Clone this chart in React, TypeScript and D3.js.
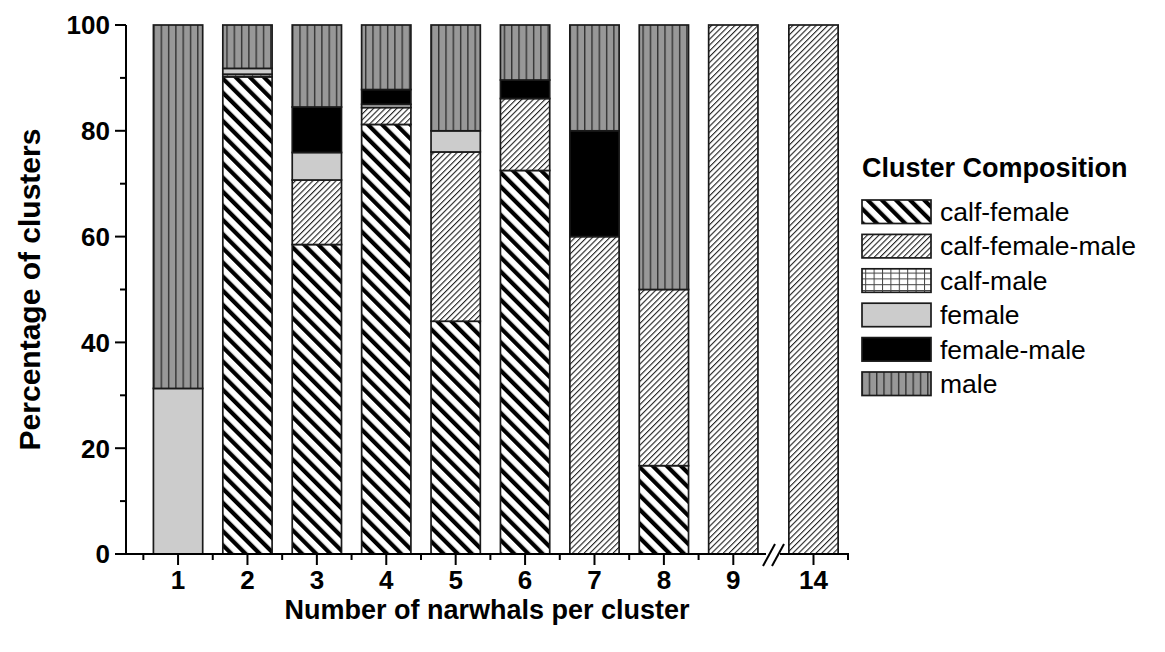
import React from "react";
import * as d3 from "d3";

// Cluster size categories (x axis has a break between 9 and 14)
const categories = ["1", "2", "3", "4", "5", "6", "7", "8", "9", "14"];
const clusterSizes = [1, 2, 3, 4, 5, 6, 7, 8, 9, 14];

// Percentage of clusters per composition type
const calfFemale = [0, 90.2, 58.5, 81.2, 44, 72.5, 0, 16.7, 0, 0];
const calfFemaleMale = [0, 0, 12.2, 3.2, 32, 13.6, 60, 33.3, 100, 100];
const calfMale = [0, 0.5, 0, 0, 0, 0, 0, 0, 0, 0];
const female = [31.3, 1.1, 5.2, 0.6, 4, 0, 0, 0, 0, 0];
const femaleMale = [0, 0, 8.6, 2.8, 0, 3.5, 20, 0, 0, 0];
const male = [68.7, 8.2, 15.5, 12.2, 20, 10.4, 20, 50, 0, 0];

const seriesNames = ["calf-female", "calf-female-male", "calf-male", "female", "female-male", "male"];
const seriesValues = [calfFemale, calfFemaleMale, calfMale, female, femaleMale, male];
const seriesFills = ["url(#pCalfFemale)", "url(#pCalfFemaleMale)", "url(#pCalfMale)", "#cccccc", "#000000", "url(#pMale)"];

const yTicks = [0, 20, 40, 60, 80, 100];
const yMinorTicks = [10, 30, 50, 70, 90];
const xMinorTicks = [0.5, 1.5, 2.5, 3.5, 4.5, 5.5, 6.5, 7.5, 8.5, 9.5, 13.5, 14.5];

const W = 1165;
const H = 652;
const FONT = "Arial, 'Liberation Sans', sans-serif";

export default function App() {
  // piecewise scale: segment 0.25..9.5, break, 13.5..14.5
  const x = d3.scaleLinear().domain([0.25, 9.5, 13.5, 14.5]).range([126, 768, 779, 848]);
  const y = d3.scaleLinear().domain([0, 100]).range([554, 25]);
  const barW = (x(2) - x(1)) * 0.71;

  const rows = categories.map((c, i) => {
    const r: Record<string, number | string> = { cat: c, pos: clusterSizes[i] };
    seriesNames.forEach((n, k) => (r[n] = seriesValues[k][i]));
    return r;
  });
  const stacked = d3.stack<any>().keys(seriesNames)(rows);

  const legendX = 862;
  const legendY0 = 200;
  const legendStep = 34.4;

  return (
    <svg width={W} height={H} style={{ position: "absolute", left: 0, top: 0, background: "#fff" }} fontFamily={FONT}>
      <defs>
        <pattern id="pCalfFemale" patternUnits="userSpaceOnUse" width={10} height={10} patternTransform="rotate(-45)">
          <rect width={10} height={10} fill="#fff" />
          <rect x={0} y={0} width={4.2} height={10} fill="#000" />
        </pattern>
        <pattern id="pCalfFemaleMale" patternUnits="userSpaceOnUse" width={4.1} height={10} patternTransform="rotate(45)">
          <rect width={4.1} height={10} fill="#fff" />
          <rect x={0} y={0} width={1.1} height={10} fill="#222" />
        </pattern>
        <pattern id="pCalfMale" patternUnits="userSpaceOnUse" width={8.4} height={5.8}>
          <rect width={8.4} height={5.8} fill="#fff" />
          <rect x={0} y={0} width={1} height={5.8} fill="#444" />
          <rect x={0} y={0} width={8.4} height={1} fill="#444" />
        </pattern>
        <pattern id="pMale" patternUnits="userSpaceOnUse" width={7.3} height={10}>
          <rect width={7.3} height={10} fill="#989898" />
          <rect x={0} y={0} width={1.4} height={10} fill="#333" />
        </pattern>
      </defs>

      {/* stacked bars */}
      {stacked.map((layer, k) => (
        <g key={layer.key} fill={seriesFills[k]}>
          {layer.map((d, i) => {
            const v = d[1] - d[0];
            if (v <= 0) return null;
            const cx = x(clusterSizes[i]);
            return (
              <rect
                key={i}
                x={cx - barW / 2}
                y={y(d[1])}
                width={barW}
                height={y(d[0]) - y(d[1])}
                stroke="#1a1a1a"
                strokeWidth={1.7}
              />
            );
          })}
        </g>
      ))}

      {/* y axis */}
      <line x1={126} x2={126} y1={y(100)} y2={y(0)} stroke="#000" strokeWidth={2} />
      {yTicks.map((t) => (
        <g key={t}>
          <line x1={115} x2={126} y1={y(t)} y2={y(t)} stroke="#000" strokeWidth={2} />
          <text x={110} y={y(t)} dy="0.36em" textAnchor="end" fontSize={26} fontWeight="bold">
            {t}
          </text>
        </g>
      ))}
      {yMinorTicks.map((t) => (
        <line key={t} x1={120} x2={126} y1={y(t)} y2={y(t)} stroke="#000" strokeWidth={2} />
      ))}

      {/* x axis with break */}
      <line x1={125} x2={849} y1={554} y2={554} stroke="#000" strokeWidth={2} />
      {clusterSizes.map((s, i) => (
        <g key={s}>
          <line x1={x(s)} x2={x(s)} y1={554} y2={565} stroke="#000" strokeWidth={2} />
          <text x={x(s)} y={589} textAnchor="middle" fontSize={26} fontWeight="bold">
            {categories[i]}
          </text>
        </g>
      ))}
      {xMinorTicks.map((t) => (
        <line key={t} x1={x(t)} x2={x(t)} y1={554} y2={560} stroke="#000" strokeWidth={2} />
      ))}
      <rect x={766} y={548} width={14} height={12} fill="#fff" />
      <line x1={763} x2={775} y1={566} y2={544} stroke="#000" strokeWidth={2} />
      <line x1={772} x2={784} y1={566} y2={544} stroke="#000" strokeWidth={2} />

      {/* axis titles */}
      <text x={487} y={619} textAnchor="middle" fontSize={27} fontWeight="bold">
        Number of narwhals per cluster
      </text>
      <text
        transform={`translate(40,${(y(0) + y(100)) / 2}) rotate(-90)`}
        textAnchor="middle"
        fontSize={30}
        fontWeight="bold"
      >
        Percentage of clusters
      </text>

      {/* legend */}
      <text x={legendX} y={177} fontSize={27} fontWeight="bold">
        Cluster Composition
      </text>
      {seriesNames.map((n, k) => {
        const ty = legendY0 + k * legendStep;
        return (
          <g key={n}>
            <rect x={legendX} y={ty} width={69} height={23.5} fill={seriesFills[k]} stroke="#1a1a1a" strokeWidth={1.7} />
            <text x={940} y={ty + 21} fontSize={26.5}>
              {n}
            </text>
          </g>
        );
      })}
    </svg>
  );
}
